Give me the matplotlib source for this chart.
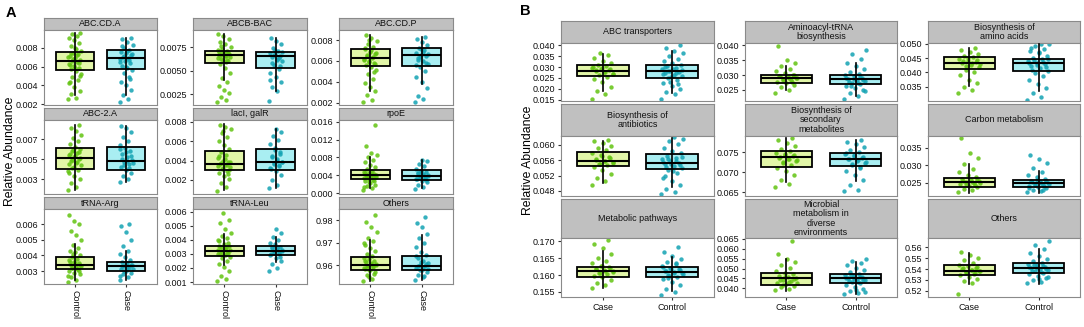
import matplotlib
matplotlib.use('Agg')
import matplotlib.pyplot as plt
from matplotlib.ticker import FixedLocator

plt.rcParams['font.family'] = ['Liberation Sans', 'DejaVu Sans']

W, H = 1084, 327

# ---------------- data: panel A (Control vs Case) ----------------
a_titles = ['ABC.CD.A', 'ABCB-BAC', 'ABC.CD.P', 'ABC-2.A', 'lacI, galR', 'rpoE',
            'tRNA-Arg', 'tRNA-Leu', 'Others']
a_groups = ['Control', 'Case']
# box stats: whisker low, q1, median, q3, whisker high
a_control_box = [
    [0.0030, 0.00565, 0.00664, 0.00754, 0.0096],
    [0.0040, 0.0058, 0.00668, 0.00715, 0.0089],
    [0.0031, 0.0055, 0.0063, 0.0071, 0.0085],
    [0.0019, 0.0040, 0.00516, 0.00616, 0.0084],
    [0.00092, 0.0030, 0.00369, 0.0050, 0.00776],
    [0.0011, 0.0031, 0.0040, 0.0051, 0.0080],
    [0.0024, 0.0031, 0.00339, 0.00387, 0.00474],
    [0.0022, 0.00283, 0.00318, 0.00354, 0.00445],
    [0.9531, 0.9578, 0.9600, 0.9634, 0.9713],
]
a_case_box = [
    [0.0030, 0.00575, 0.0069, 0.0078, 0.0091],
    [0.0028, 0.0053, 0.00655, 0.0070, 0.0085],
    [0.0038, 0.0055, 0.0066, 0.0072, 0.0083],
    [0.0027, 0.0039, 0.00486, 0.0062, 0.0083],
    [0.00117, 0.0030, 0.0038, 0.0052, 0.0072],
    [0.0011, 0.0030, 0.0039, 0.0051, 0.0075],
    [0.0024, 0.0030, 0.0033, 0.0036, 0.0043],
    [0.0024, 0.0029, 0.0032, 0.00354, 0.0042],
    [0.9535, 0.9576, 0.9596, 0.9641, 0.9733],
]
a_control_pts = [
    [0.0025, 0.0027, 0.0031, 0.0034, 0.0038, 0.0042, 0.0046, 0.0049, 0.0052, 0.0055, 0.0057,
     0.0059, 0.0061, 0.0063, 0.0065, 0.0066, 0.0067, 0.0069, 0.0071, 0.0073, 0.0075, 0.0077,
     0.0079, 0.0082, 0.0085, 0.0088, 0.0090, 0.0093, 0.0095, 0.0096,
     0.0058, 0.0062, 0.0064, 0.0068, 0.0070, 0.0072, 0.0074, 0.0050, 0.0080, 0.0044],
    [0.0017, 0.0019, 0.0022, 0.0026, 0.0030, 0.0034, 0.0038, 0.0042, 0.0048, 0.0053, 0.0057,
     0.0060, 0.0062, 0.0064, 0.0066, 0.0067, 0.0068, 0.0069, 0.0070, 0.0071, 0.0073, 0.0075,
     0.0078, 0.0081, 0.0084, 0.0087, 0.0089,
     0.0061, 0.0063, 0.0065, 0.0066, 0.0067, 0.0069, 0.0070, 0.0072, 0.0059, 0.0076],
    [0.0021, 0.0023, 0.0027, 0.0031, 0.0035, 0.0039, 0.0043, 0.0047, 0.0051, 0.0054, 0.0056,
     0.0058, 0.0060, 0.0062, 0.0063, 0.0065, 0.0067, 0.0069, 0.0071, 0.0073, 0.0076, 0.0079,
     0.0082, 0.0085,
     0.0057, 0.0059, 0.0061, 0.0064, 0.0066, 0.0068, 0.0070, 0.0072, 0.0049, 0.0080],
    [0.0019, 0.0022, 0.0026, 0.0030, 0.0033, 0.0036, 0.0039, 0.0041, 0.0044, 0.0046, 0.0048,
     0.0050, 0.0052, 0.0054, 0.0056, 0.0058, 0.0060, 0.0062, 0.0065, 0.0068, 0.0071, 0.0074,
     0.0078, 0.0081, 0.0084,
     0.0042, 0.0045, 0.0047, 0.0049, 0.0051, 0.0053, 0.0055, 0.0057, 0.0059, 0.0038],
    [0.0009, 0.0013, 0.0017, 0.0021, 0.0024, 0.0027, 0.0029, 0.0031, 0.0033, 0.0035, 0.0036,
     0.0038, 0.0040, 0.0043, 0.0046, 0.0049, 0.0052, 0.0056, 0.0060, 0.0064, 0.0068, 0.0072,
     0.0075, 0.0077,
     0.0030, 0.0032, 0.0034, 0.0035, 0.0037, 0.0039, 0.0042, 0.0045, 0.0026, 0.0070],
    [0.0008, 0.0011, 0.0015, 0.0019, 0.0023, 0.0027, 0.0030, 0.0033, 0.0036, 0.0038, 0.0040,
     0.0042, 0.0044, 0.0047, 0.0050, 0.0054, 0.0058, 0.0063, 0.0069, 0.0075, 0.0080, 0.0085,
     0.0090, 0.0106, 0.0153,
     0.0032, 0.0035, 0.0037, 0.0039, 0.0041, 0.0043, 0.0046, 0.0028, 0.0025, 0.0013],
    [0.0023, 0.0024, 0.0026, 0.0028, 0.0029, 0.0030, 0.0031, 0.0032, 0.0033, 0.0033, 0.0034,
     0.0035, 0.0036, 0.0037, 0.0038, 0.0039, 0.0040, 0.0042, 0.0043, 0.0045, 0.0047, 0.0050,
     0.0053, 0.0056, 0.0060, 0.0062, 0.0066,
     0.0031, 0.0032, 0.0034, 0.0035, 0.0036, 0.0030, 0.0041, 0.0027],
    [0.0011, 0.0012, 0.0014, 0.0018, 0.0021, 0.0023, 0.0025, 0.0027, 0.0028, 0.0029, 0.0030,
     0.0031, 0.0032, 0.0033, 0.0034, 0.0035, 0.0036, 0.0037, 0.0039, 0.0041, 0.0043, 0.0045,
     0.0048, 0.0052, 0.0054, 0.0059,
     0.0030, 0.0031, 0.0032, 0.0033, 0.0034, 0.0036, 0.0038, 0.0029, 0.0040],
    [0.9530, 0.9540, 0.9555, 0.9568, 0.9576, 0.9583, 0.9590, 0.9596, 0.9601, 0.9606, 0.9612,
     0.9618, 0.9625, 0.9632, 0.9640, 0.9650, 0.9662, 0.9675, 0.9690, 0.9705, 0.9720, 0.9745,
     0.9770, 0.9790, 0.9822,
     0.9580, 0.9588, 0.9594, 0.9598, 0.9604, 0.9610, 0.9620, 0.9560, 0.9545, 0.9700],
]
a_case_pts = [
    [0.0022, 0.0025, 0.0030, 0.0035, 0.0040, 0.0044, 0.0049, 0.0053, 0.0056, 0.0058, 0.0061,
     0.0064, 0.0066, 0.0068, 0.0069, 0.0070, 0.0072, 0.0074, 0.0076, 0.0078, 0.0080, 0.0083,
     0.0086, 0.0089, 0.0091,
     0.0060, 0.0065, 0.0067, 0.0071, 0.0073, 0.0077, 0.0082, 0.0047],
    [0.0018, 0.0028, 0.0033, 0.0038, 0.0043, 0.0048, 0.0052, 0.0056, 0.0060, 0.0063, 0.0065,
     0.0066, 0.0068, 0.0069, 0.0071, 0.0074, 0.0078, 0.0082, 0.0085,
     0.0064, 0.0067, 0.0070, 0.0062, 0.0058, 0.0055, 0.0072, 0.0040],
    [0.0021, 0.0024, 0.0026, 0.0034, 0.0040, 0.0045, 0.0050, 0.0054, 0.0057, 0.0060, 0.0063,
     0.0065, 0.0066, 0.0068, 0.0070, 0.0072, 0.0075, 0.0078, 0.0081, 0.0083,
     0.0064, 0.0067, 0.0069, 0.0061, 0.0058, 0.0071, 0.0056],
    [0.0027, 0.0030, 0.0033, 0.0036, 0.0039, 0.0042, 0.0045, 0.0047, 0.0049, 0.0052, 0.0055,
     0.0058, 0.0061, 0.0064, 0.0068, 0.0072, 0.0077, 0.0081, 0.0083,
     0.0041, 0.0044, 0.0046, 0.0048, 0.0050, 0.0053, 0.0057, 0.0060],
    [0.0012, 0.0015, 0.0020, 0.0025, 0.0029, 0.0032, 0.0035, 0.0037, 0.0039, 0.0042, 0.0045,
     0.0049, 0.0053, 0.0057, 0.0061, 0.0065, 0.0069, 0.0072,
     0.0031, 0.0034, 0.0036, 0.0038, 0.0040, 0.0044, 0.0047, 0.0051],
    [0.0010, 0.0014, 0.0019, 0.0024, 0.0028, 0.0031, 0.0034, 0.0037, 0.0039, 0.0041, 0.0044,
     0.0047, 0.0050, 0.0055, 0.0060, 0.0066, 0.0071, 0.0075,
     0.0032, 0.0035, 0.0038, 0.0040, 0.0042, 0.0045, 0.0030, 0.0049],
    [0.0024, 0.0026, 0.0028, 0.0029, 0.0030, 0.0031, 0.0032, 0.0033, 0.0034, 0.0035, 0.0036,
     0.0037, 0.0039, 0.0041, 0.0043, 0.0046, 0.0050, 0.0055, 0.0059, 0.0060,
     0.0030, 0.0031, 0.0032, 0.0033, 0.0034, 0.0035, 0.0027],
    [0.0018, 0.0020, 0.0023, 0.0025, 0.0027, 0.0029, 0.0030, 0.0031, 0.0032, 0.0033, 0.0034,
     0.0035, 0.0036, 0.0038, 0.0040, 0.0042, 0.0045, 0.0048,
     0.0030, 0.0031, 0.0032, 0.0033, 0.0034, 0.0035, 0.0028, 0.0037],
    [0.9535, 0.9545, 0.9558, 0.9570, 0.9580, 0.9588, 0.9595, 0.9602, 0.9610, 0.9620, 0.9632,
     0.9645, 0.9660, 0.9680, 0.9700, 0.9720, 0.9740, 0.9770, 0.9785, 0.9812,
     0.9578, 0.9584, 0.9592, 0.9598, 0.9605, 0.9615, 0.9640, 0.9550],
]

# ---------------- data: panel B (Case vs Control) ----------------
b_titles = ['ABC transporters', 'Aminoacyl-tRNA\nbiosynthesis', 'Biosynthesis of\namino acids',
            'Biosynthesis of\nantibiotics', 'Biosynthesis of\nsecondary\nmetabolites',
            'Carbon metabolism', 'Metabolic pathways',
            'Microbial\nmetabolism in\ndiverse\nenvironments', 'Others']
b_groups = ['Case', 'Control']
b_case_box = [
    [0.0190, 0.0257, 0.0284, 0.0310, 0.0362],
    [0.0249, 0.0274, 0.0291, 0.0302, 0.0331],
    [0.0353, 0.0411, 0.0433, 0.0452, 0.0483],
    [0.0500, 0.0544, 0.0558, 0.0582, 0.0610],
    [0.0674, 0.0713, 0.0737, 0.0752, 0.0785],
    [0.0221, 0.0238, 0.0251, 0.0264, 0.0302],
    [0.1563, 0.1595, 0.1612, 0.1625, 0.1670],
    [0.0387, 0.0417, 0.0450, 0.0477, 0.0550],
    [0.5266, 0.5344, 0.5384, 0.5437, 0.5547],
]
b_control_box = [
    [0.0180, 0.0250, 0.0280, 0.0310, 0.0376],
    [0.0230, 0.0269, 0.0286, 0.0300, 0.0342],
    [0.0336, 0.0404, 0.0431, 0.0448, 0.0497],
    [0.0491, 0.0538, 0.0552, 0.0575, 0.0619],
    [0.0678, 0.0716, 0.0733, 0.0747, 0.0781],
    [0.0221, 0.0238, 0.0249, 0.0258, 0.0283],
    [0.1552, 0.1595, 0.1610, 0.1625, 0.1655],
    [0.0373, 0.0425, 0.0450, 0.0475, 0.0533],
    [0.5266, 0.5362, 0.5410, 0.5456, 0.5581],
]
b_case_pts = [
    [0.0155, 0.0175, 0.0190, 0.0210, 0.0230, 0.0245, 0.0255, 0.0262, 0.0270, 0.0276, 0.0282,
     0.0287, 0.0292, 0.0298, 0.0305, 0.0312, 0.0320, 0.0330, 0.0342, 0.0355, 0.0365,
     0.0266, 0.0279, 0.0285, 0.0290, 0.0295, 0.0301],
    [0.0240, 0.0250, 0.0260, 0.0267, 0.0273, 0.0278, 0.0283, 0.0287, 0.0291, 0.0294, 0.0298,
     0.0302, 0.0307, 0.0313, 0.0320, 0.0330, 0.0340, 0.0350, 0.0398,
     0.0276, 0.0285, 0.0289, 0.0292, 0.0296, 0.0300],
    [0.0330, 0.0340, 0.0350, 0.0362, 0.0375, 0.0390, 0.0402, 0.0410, 0.0418, 0.0425, 0.0431,
     0.0436, 0.0441, 0.0446, 0.0452, 0.0458, 0.0465, 0.0472, 0.0478, 0.0483,
     0.0421, 0.0428, 0.0434, 0.0439, 0.0444, 0.0449],
    [0.0495, 0.0505, 0.0515, 0.0525, 0.0535, 0.0542, 0.0547, 0.0551, 0.0555, 0.0559, 0.0563,
     0.0568, 0.0574, 0.0580, 0.0586, 0.0592, 0.0598, 0.0604, 0.0609, 0.0613,
     0.0549, 0.0553, 0.0557, 0.0561, 0.0566, 0.0571],
    [0.0663, 0.0670, 0.0680, 0.0692, 0.0703, 0.0711, 0.0717, 0.0722, 0.0727, 0.0732, 0.0736,
     0.0740, 0.0744, 0.0748, 0.0753, 0.0759, 0.0766, 0.0773, 0.0780, 0.0785,
     0.0725, 0.0730, 0.0734, 0.0738, 0.0742, 0.0746],
    [0.0223, 0.0228, 0.0233, 0.0237, 0.0241, 0.0245, 0.0248, 0.0251, 0.0254, 0.0257, 0.0261,
     0.0266, 0.0272, 0.0280, 0.0290, 0.0302, 0.0320, 0.0335, 0.0377,
     0.0243, 0.0247, 0.0250, 0.0253, 0.0256, 0.0259],
    [0.1562, 0.1570, 0.1578, 0.1586, 0.1593, 0.1598, 0.1603, 0.1607, 0.1611, 0.1615, 0.1619,
     0.1623, 0.1628, 0.1635, 0.1643, 0.1652, 0.1662, 0.1680, 0.1692, 0.1705,
     0.1605, 0.1609, 0.1613, 0.1617, 0.1621, 0.1626],
    [0.0390, 0.0398, 0.0405, 0.0412, 0.0420, 0.0428, 0.0436, 0.0443, 0.0450, 0.0457, 0.0464,
     0.0472, 0.0480, 0.0490, 0.0503, 0.0518, 0.0535, 0.0550, 0.0575, 0.0640,
     0.0415, 0.0425, 0.0432, 0.0440, 0.0447, 0.0455],
    [0.5170, 0.5270, 0.5290, 0.5310, 0.5330, 0.5345, 0.5358, 0.5370, 0.5380, 0.5390, 0.5400,
     0.5412, 0.5425, 0.5440, 0.5458, 0.5480, 0.5505, 0.5530, 0.5552,
     0.5365, 0.5376, 0.5386, 0.5395, 0.5405, 0.5418],
]
b_control_pts = [
    [0.0152, 0.0175, 0.0185, 0.0200, 0.0215, 0.0228, 0.0240, 0.0250, 0.0258, 0.0265, 0.0272,
     0.0278, 0.0284, 0.0290, 0.0296, 0.0303, 0.0310, 0.0318, 0.0327, 0.0338, 0.0350, 0.0365,
     0.0376, 0.0390, 0.0403,
     0.0255, 0.0268, 0.0275, 0.0281, 0.0287, 0.0293, 0.0300, 0.0222, 0.0232],
    [0.0220, 0.0230, 0.0240, 0.0250, 0.0258, 0.0265, 0.0270, 0.0275, 0.0280, 0.0284, 0.0288,
     0.0292, 0.0296, 0.0300, 0.0305, 0.0312, 0.0320, 0.0330, 0.0342, 0.0355, 0.0370, 0.0385,
     0.0272, 0.0278, 0.0282, 0.0286, 0.0290, 0.0294, 0.0262, 0.0246],
    [0.0305, 0.0315, 0.0330, 0.0345, 0.0360, 0.0375, 0.0388, 0.0398, 0.0406, 0.0414, 0.0421,
     0.0428, 0.0434, 0.0440, 0.0445, 0.0451, 0.0458, 0.0466, 0.0474, 0.0482, 0.0490, 0.0497,
     0.0499,
     0.0410, 0.0418, 0.0425, 0.0431, 0.0437, 0.0443, 0.0448, 0.0470, 0.0486],
    [0.0472, 0.0478, 0.0486, 0.0495, 0.0505, 0.0515, 0.0526, 0.0534, 0.0540, 0.0545, 0.0549,
     0.0553, 0.0557, 0.0562, 0.0567, 0.0572, 0.0578, 0.0585, 0.0593, 0.0601, 0.0609, 0.0615,
     0.0620,
     0.0543, 0.0547, 0.0551, 0.0555, 0.0559, 0.0564, 0.0569, 0.0531, 0.0520],
    [0.0652, 0.0655, 0.0668, 0.0680, 0.0692, 0.0703, 0.0712, 0.0718, 0.0723, 0.0728, 0.0732,
     0.0736, 0.0740, 0.0745, 0.0750, 0.0756, 0.0763, 0.0770, 0.0777, 0.0782,
     0.0721, 0.0726, 0.0730, 0.0734, 0.0738, 0.0742, 0.0748, 0.0710],
    [0.0222, 0.0226, 0.0230, 0.0234, 0.0238, 0.0241, 0.0244, 0.0247, 0.0250, 0.0253, 0.0256,
     0.0260, 0.0265, 0.0272, 0.0280, 0.0292, 0.0305, 0.0318, 0.0330,
     0.0240, 0.0243, 0.0246, 0.0249, 0.0252, 0.0255, 0.0258, 0.0236, 0.0228],
    [0.1542, 0.1550, 0.1560, 0.1570, 0.1580, 0.1588, 0.1595, 0.1600, 0.1605, 0.1609, 0.1613,
     0.1617, 0.1621, 0.1626, 0.1632, 0.1640, 0.1648, 0.1656, 0.1668, 0.1683,
     0.1598, 0.1603, 0.1607, 0.1611, 0.1615, 0.1619, 0.1623, 0.1636, 0.1590],
    [0.0370, 0.0378, 0.0388, 0.0398, 0.0408, 0.0418, 0.0426, 0.0433, 0.0440, 0.0446, 0.0451,
     0.0456, 0.0462, 0.0468, 0.0475, 0.0483, 0.0493, 0.0505, 0.0518, 0.0530, 0.0540, 0.0548,
     0.0430, 0.0437, 0.0443, 0.0448, 0.0453, 0.0459, 0.0465, 0.0383, 0.0393],
    [0.5270, 0.5285, 0.5300, 0.5320, 0.5340, 0.5355, 0.5368, 0.5380, 0.5392, 0.5402, 0.5412,
     0.5422, 0.5433, 0.5445, 0.5458, 0.5475, 0.5495, 0.5520, 0.5548, 0.5580, 0.5620, 0.5660,
     0.5374, 0.5386, 0.5397, 0.5407, 0.5417, 0.5428, 0.5440, 0.5330, 0.5310],
]

# ---------------- axis scales ----------------
a_ylim = [(0.0019, 0.0099), (0.00136, 0.00934), (0.00178, 0.00896),
          (0.00153, 0.00893), (0.00056, 0.00817), (-0.0002, 0.0164),
          (0.00217, 0.00698), (0.00086, 0.0062), (0.9516, 0.9849)]
a_ticks = [[0.002, 0.004, 0.006, 0.008], [0.0025, 0.005, 0.0075],
           [0.002, 0.004, 0.006, 0.008], [0.003, 0.005, 0.007],
           [0.002, 0.004, 0.006, 0.008], [0.0, 0.004, 0.008, 0.012, 0.016],
           [0.003, 0.004, 0.005, 0.006], [0.001, 0.002, 0.003, 0.004, 0.005, 0.006],
           [0.96, 0.97, 0.98]]
a_dec = [3, 4, 3, 3, 3, 3, 3, 3, 2]

b_ylim = [(0.0144, 0.0411), (0.0213, 0.0408), (0.0301, 0.0502),
          (0.0467, 0.0623), (0.0640, 0.0791), (0.0212, 0.0383),
          (0.1535, 0.1710), (0.0356, 0.0655), (0.5144, 0.5684)]
b_ticks = [[0.015, 0.020, 0.025, 0.030, 0.035, 0.040], [0.025, 0.030, 0.035, 0.040],
           [0.035, 0.040, 0.045, 0.050], [0.048, 0.052, 0.056, 0.060],
           [0.065, 0.070, 0.075], [0.025, 0.030, 0.035],
           [0.155, 0.160, 0.165, 0.170], [0.040, 0.045, 0.050, 0.055, 0.060, 0.065],
           [0.52, 0.53, 0.54, 0.55, 0.56]]
b_dec = [3, 3, 3, 3, 3, 3, 3, 3, 2]

# ---------------- style ----------------
PT_COLORS = ['#62c310', '#13a3b3']
BOX_COLORS = ['#e2f6a8', '#a9eef2']
STRIP_FC = '#c0c0c0'
FRAME = '#8a8a8a'
FS = 6.5

# pixel layout: column x-ranges, rows (strip top, panel top, panel bottom)
A_COLS = [(44, 157), (193, 307), (339, 453)]
A_ROWS = [(18, 30, 105), (108, 120, 194), (197, 209, 284)]
B_COLS = [(561, 714), (745, 897), (928, 1080)]
B_ROWS = [(21, 43, 101), (104, 136, 196), (199, 238, 297)]


def rect(x0, y0, x1, y1):
    return [x0 / W, 1 - y1 / H, (x1 - x0) / W, (y1 - y0) / H]


def jitter(n, half):
    # deterministic spread of point x offsets inside +-half
    return [half * (((i * 0.618034) % 1.0) * 2 - 1) for i in range(n)]


def facet(fig, cols, rows, k, title, boxes, pts, ylim, ticks, dec, groups,
          bottom, rotate, half):
    x0, x1 = cols[k % 3]
    s0, p0, p1 = rows[k // 3]

    sx = fig.add_axes(rect(x0, s0, x1, p0))
    sx.set_facecolor(STRIP_FC)
    sx.set_xticks([]); sx.set_yticks([])
    for sp in sx.spines.values():
        sp.set_color(FRAME); sp.set_linewidth(0.8)
    sx.text(0.5, 0.5, title, ha='center', va='center', fontsize=FS,
            linespacing=1.05, transform=sx.transAxes, color='#111111')

    ax = fig.add_axes(rect(x0, p0, x1, p1))
    for sp in ax.spines.values():
        sp.set_color(FRAME); sp.set_linewidth(0.8)

    stats = [dict(whislo=b[0], q1=b[1], med=b[2], q3=b[3], whishi=b[4], fliers=[])
             for b in boxes]
    pos = [1, 2]
    # fills under the points
    bp = ax.bxp(stats, positions=pos, widths=0.75, patch_artist=True,
                showfliers=False, showcaps=False, manage_ticks=False,
                boxprops=dict(linewidth=0), medianprops=dict(linewidth=0),
                whiskerprops=dict(linewidth=0), zorder=1)
    for patch, fc in zip(bp['boxes'], BOX_COLORS):
        patch.set_facecolor(fc)
    # jittered points
    for i, vals in enumerate(pts):
        xs = [pos[i] + d for d in jitter(len(vals), half)]
        ax.scatter(xs, vals, s=10, color=PT_COLORS[i], alpha=0.85,
                   linewidths=0, zorder=2)
    # outlines, medians, whiskers on top
    ax.bxp(stats, positions=pos, widths=0.75, patch_artist=True,
           showfliers=False, showcaps=False, manage_ticks=False,
           boxprops=dict(facecolor='none', edgecolor='black', linewidth=1.3),
           medianprops=dict(color='black', linewidth=1.5),
           whiskerprops=dict(linewidth=0), zorder=3)
    for i, b in enumerate(boxes):
        ax.plot([pos[i], pos[i]], [b[0], b[4]], color='black', lw=1.2, zorder=3)

    ax.set_xlim(0.4, 2.6)
    ax.set_ylim(*ylim)
    ax.yaxis.set_major_locator(FixedLocator(ticks))
    ax.set_yticklabels([f'{t:.{dec}f}' for t in ticks])
    ax.tick_params(axis='y', length=2.5, width=0.8, pad=1.5, labelsize=FS,
                   color='#333333', labelcolor='#111111')
    ax.set_xticks(pos)
    if bottom:
        ax.set_xticklabels(groups, rotation=-90 if rotate else 0)
        ax.tick_params(axis='x', length=2.5, width=0.8, pad=1.5, labelsize=FS,
                       color='#333333', labelcolor='#111111')
    else:
        ax.tick_params(axis='x', bottom=False, labelbottom=False)


fig = plt.figure(figsize=(W / 100, H / 100), dpi=100)

for k in range(9):
    facet(fig, A_COLS, A_ROWS, k, a_titles[k],
          [a_control_box[k], a_case_box[k]], [a_control_pts[k], a_case_pts[k]],
          a_ylim[k], a_ticks[k], a_dec[k], a_groups, k >= 6, True, 0.13)
    facet(fig, B_COLS, B_ROWS, k, b_titles[k],
          [b_case_box[k], b_control_box[k]], [b_case_pts[k], b_control_pts[k]],
          b_ylim[k], b_ticks[k], b_dec[k], b_groups, k >= 6, False, 0.16)

fig.text(6 / W, 1 - 13 / H, 'A', fontsize=10.5, fontweight='bold', ha='left', va='center')
fig.text(520 / W, 1 - 11 / H, 'B', fontsize=10.5, fontweight='bold', ha='left', va='center')
fig.text(10 / W, 1 - 151 / H, 'Relative Abundance', rotation=90, fontsize=8.8,
         ha='center', va='center')
fig.text(528 / W, 1 - 160 / H, 'Relative Abundance', rotation=90, fontsize=8.8,
         ha='center', va='center')

fig.savefig('out.png', dpi=100)
